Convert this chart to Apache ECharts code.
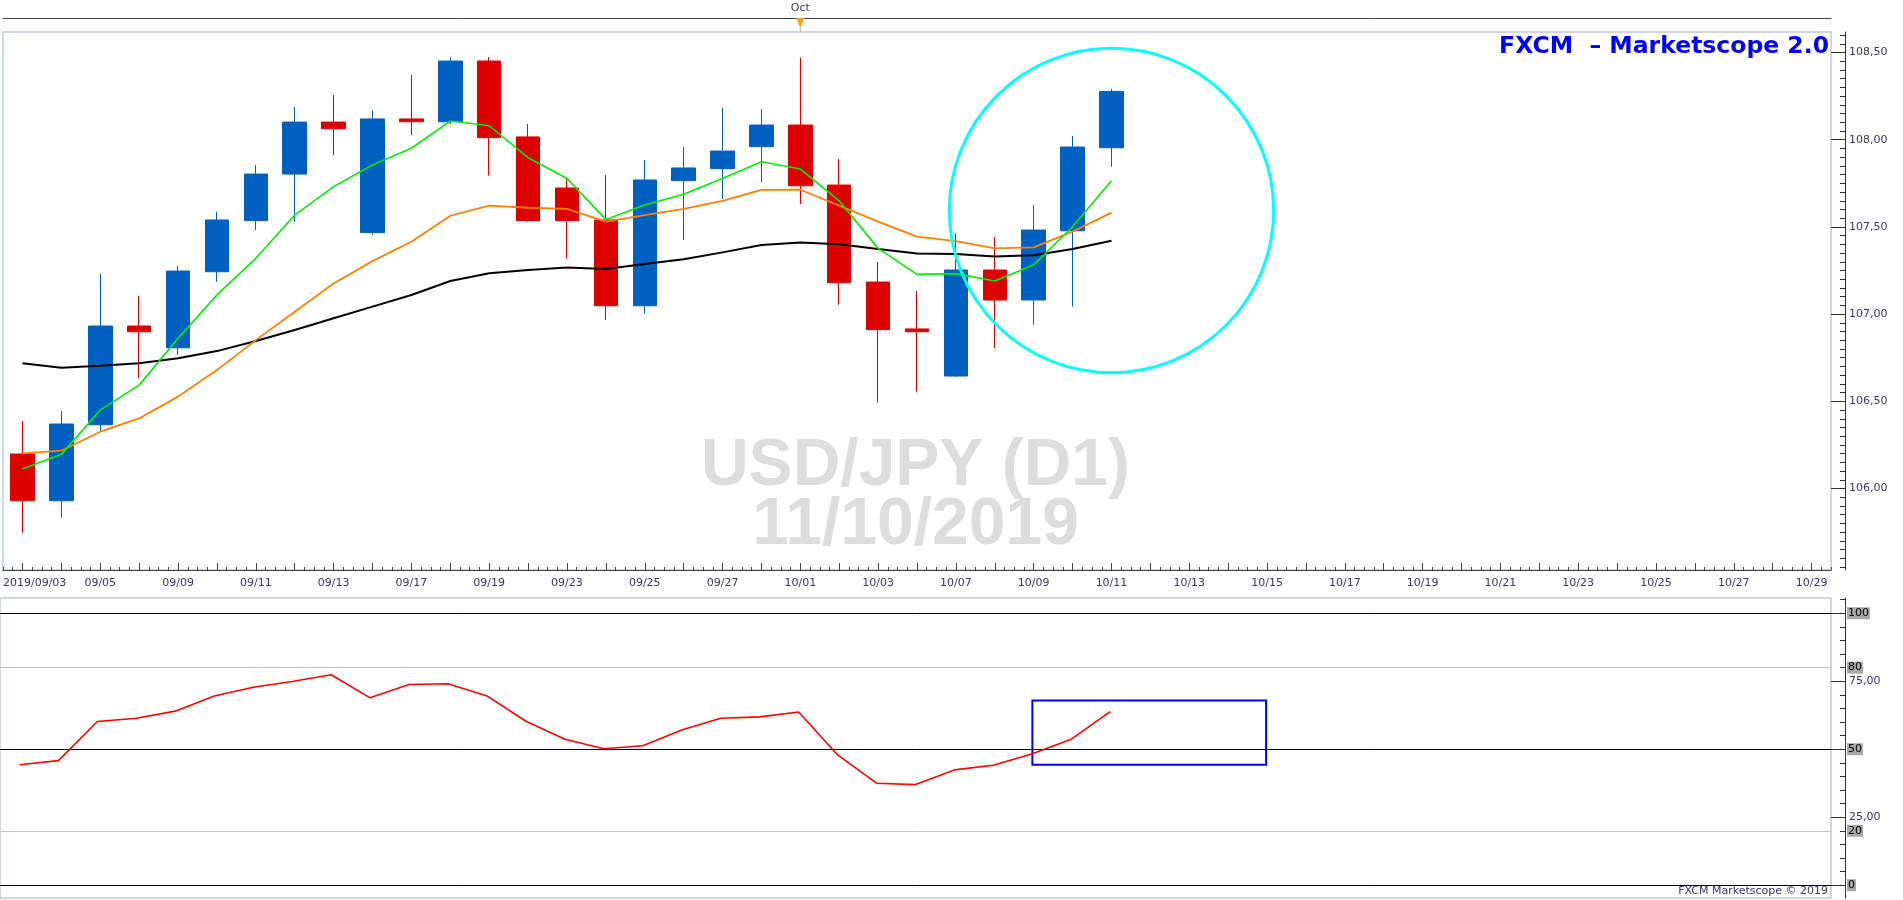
<!DOCTYPE html>
<html><head><meta charset="utf-8">
<script src="https://cdn.jsdelivr.net/npm/echarts@6/dist/echarts.min.js"></script>
<style>html,body{margin:0;padding:0;background:#fff;overflow:hidden}#c{width:1903px;height:900px}</style>
</head><body><div id="c"></div>
<script>
// ---------- data ----------
const tradingDates = ['2019/09/03','09/04','09/05','09/06','09/09','09/10','09/11','09/12','09/13','09/16',
  '09/17','09/18','09/19','09/20','09/23','09/24','09/25','09/26','09/27','09/30',
  '10/01','10/02','10/03','10/04','10/07','10/08','10/09','10/10','10/11'];
const futureDates = ['10/12','10/13','10/14','10/15','10/16','10/17','10/18','10/19','10/20','10/21',
  '10/22','10/23','10/24','10/25','10/26','10/27','10/28','10/29'];
const opens  = [106.198,105.930,106.366,106.932,106.807,107.243,107.536,107.803,108.101,107.467,
  108.119,108.103,108.451,108.016,107.723,107.540,107.048,107.765,107.834,107.960,
  108.084,107.740,107.184,106.915,106.645,107.253,107.081,107.478,107.954];
const closes = [105.930,106.370,106.932,106.899,107.247,107.540,107.803,108.101,108.063,108.119,
  108.103,108.451,108.012,107.536,107.536,107.048,107.769,107.838,107.935,108.084,
  107.736,107.180,106.911,106.899,107.253,107.081,107.482,107.958,108.277];
const lows   = [105.747,105.833,106.326,106.632,106.765,107.186,107.482,107.530,107.912,107.454,
  108.027,108.090,107.794,107.530,107.318,106.966,107.002,107.425,107.660,107.756,
  107.631,107.054,106.492,106.555,106.640,106.806,106.939,107.043,107.845];
const highs  = [106.387,106.444,107.230,107.104,107.276,107.587,107.855,108.188,108.256,108.170,
  108.371,108.474,108.474,108.090,107.778,107.798,107.884,107.958,108.182,108.176,
  108.470,107.889,107.299,107.132,107.463,107.442,107.626,108.021,108.291];
const maFast = [106.112,106.196,106.450,106.593,106.861,107.110,107.320,107.568,107.731,107.855,
  107.951,108.107,108.080,107.897,107.778,107.543,107.626,107.687,107.778,107.874,
  107.832,107.649,107.377,107.228,107.232,107.190,107.282,107.501,107.765];
const maMid  = [106.202,106.217,106.326,106.402,106.527,106.679,106.851,107.014,107.176,107.304,
  107.415,107.564,107.622,107.610,107.603,107.530,107.568,107.603,107.649,107.712,
  107.713,107.622,107.530,107.444,107.419,107.377,107.383,107.473,107.582];
const maSlow = [106.718,106.693,106.704,106.718,106.747,106.788,106.846,106.909,106.976,107.043,
  107.110,107.190,107.234,107.253,107.268,107.259,107.287,107.314,107.354,107.396,
  107.410,107.400,107.373,107.348,107.345,107.331,107.338,107.373,107.421];
const rsi    = [44.3,45.8,60.2,61.4,64.0,69.6,72.8,74.9,77.4,68.9,
  73.8,74.1,69.6,60.3,53.7,50.2,51.3,57.1,61.4,61.9,
  63.7,47.9,37.5,37.0,42.4,44.1,48.3,53.7,63.8];
const priceTicks = [106.0,106.5,107.0,107.5,108.0,108.5];
const priceRange = [105.533, 108.6175];
const rsiTicks = [0,25,50,75,100];
const rsiTickLabels = [25,75];
const rsiRange = [-4.7, 105.6];
const rsiLevels = [100,80,50,20,0];
const rsiLevelColors = ['#000','#c4c4c4','#000','#c4c4c4','#000'];
const monthMarker = {date:'10/01', label:'Oct'};
const lastPrice = 108.277;
const highlightCircle = {date:'10/11', price:107.594, radiusPrice:0.93};
const rsiBox = {from:'10/09', to:'10/15', top:67.9, bottom:44.3};
const titleText = 'FXCM  \u2013 Marketscope 2.0';
const watermark = ['USD/JPY (D1)','11/10/2019'];
const copyright = 'FXCM Marketscope \u00a9 2019';

// ---------- build ----------
const allDates = tradingDates.concat(futureDates);
const candles = opens.map((o,i)=>[o, closes[i], lows[i], highs[i]]);
const labelColor = '#35356f';
const fontFam = 'DejaVu Sans';
const fmt2 = v => v.toFixed(2).replace('.', ',');
const minorPrice = []; for (let v = 105.55; v < 108.62; v += 0.05) minorPrice.push(+v.toFixed(2));
const minorRsi = []; for (let v = 0; v <= 105; v += 5) minorRsi.push(v);

const GRID_L = 0, GRID_R = 72;
const chart = echarts.init(document.getElementById('c'), null, {renderer:'canvas'});
const option = {
  animation:false,
  backgroundColor:'#fff',
  grid:[
    {left:GRID_L, right:GRID_R, top:32, height:538, show:true, backgroundColor:'#fff', borderColor:'#cdd6e1', borderWidth:2},
    {left:GRID_L, right:GRID_R, top:598, height:300, show:true, backgroundColor:'#fff', borderColor:'#cdd6e1', borderWidth:2}
  ],
  xAxis:[
    {type:'category', gridIndex:0, data:allDates, position:'bottom', boundaryGap:true,
      axisLine:{show:true, onZero:false, lineStyle:{color:'#444', width:1}},
      axisTick:{show:true, inside:true, length:7, alignWithLabel:true, interval:0, lineStyle:{color:'#444'}},
      axisLabel:{interval:1, margin:8, color:labelColor, fontSize:11, fontFamily:fontFam,
        formatter:(v,i)=> i===0 ? '{first|'+v+'}' : v,
        rich:{first:{width:39, align:'left', color:labelColor, fontSize:11, fontFamily:fontFam}}},
      splitLine:{show:false}},
    {type:'category', gridIndex:0, data:allDates, position:'top', offset:14, boundaryGap:true,
      axisLine:{show:true, onZero:false, lineStyle:{color:'#444', width:1}},
      axisTick:{show:false},
      axisLabel:{interval:0, margin:4, color:labelColor, fontSize:11, fontFamily:fontFam,
        formatter:(v)=> v===monthMarker.date ? monthMarker.label : ''},
      splitLine:{show:false}},
    {type:'value', gridIndex:0, position:'bottom', min:-0.5, max:allDates.length-0.5, interval:0.25,
      axisLine:{show:false, onZero:false}, axisTick:{show:true, inside:true, length:3, lineStyle:{color:'#444'}},
      axisLabel:{show:false}, splitLine:{show:false}},
    {type:'category', gridIndex:1, data:allDates, boundaryGap:true, show:false, axisLine:{onZero:false}}
  ],
  yAxis:[
    {type:'value', gridIndex:0, position:'right', offset:14, min:priceRange[0], max:priceRange[1], scale:true,
      axisLine:{show:true, onZero:false, lineStyle:{color:'#333', width:1}},
      axisTick:{show:true, inside:true, length:14, customValues:priceTicks, lineStyle:{color:'#333'}},
      axisLabel:{show:true, customValues:priceTicks, formatter:fmt2, color:labelColor, fontSize:11, fontFamily:fontFam, margin:4},
      splitLine:{show:false}},
    {type:'value', gridIndex:0, position:'right', offset:14, min:priceRange[0], max:priceRange[1], scale:true,
      axisLine:{show:false, onZero:false},
      axisTick:{show:true, inside:true, length:5, customValues:minorPrice, lineStyle:{color:'#333'}},
      axisLabel:{show:false}, splitLine:{show:false}},
    {type:'value', gridIndex:1, position:'right', offset:14, min:rsiRange[0], max:rsiRange[1],
      axisLine:{show:true, onZero:false, lineStyle:{color:'#333', width:1}},
      axisTick:{show:true, inside:true, length:14, customValues:rsiTicks, lineStyle:{color:'#333'}},
      axisLabel:{show:true, customValues:rsiTickLabels, formatter:fmt2, color:labelColor, fontSize:11, fontFamily:fontFam, margin:4},
      splitLine:{show:false}},
    {type:'value', gridIndex:1, position:'right', offset:14, min:rsiRange[0], max:rsiRange[1],
      axisLine:{show:false, onZero:false},
      axisTick:{show:true, inside:true, length:5, customValues:minorRsi, lineStyle:{color:'#333'}},
      axisLabel:{show:false}, splitLine:{show:false}}
  ],
  series:[
    {type:'candlestick', xAxisIndex:0, yAxisIndex:0, data:candles, barWidth:24, z:3,
      itemStyle:{color:'#0060c0', color0:'#dc0000', borderColor:'#0060c0', borderColor0:'#dc0000', borderWidth:1},
      markLine:{silent:true, symbol:'none', animation:false,
        data:[{yAxis:lastPrice}],
        lineStyle:{opacity:0},
        label:{show:true, position:'end', distance:16, formatter:()=>lastPrice.toFixed(3).replace('.',','),
          backgroundColor:'#66ccff', color:'#000', fontSize:11, fontFamily:fontFam, padding:[3,1,2,1]}}
    },
    {type:'line', xAxisIndex:0, yAxisIndex:0, data:maSlow, symbol:'none', lineStyle:{color:'#000', width:2}, z:4},
    {type:'line', xAxisIndex:0, yAxisIndex:0, data:maMid, symbol:'none', lineStyle:{color:'#ff8000', width:1.8}, z:5},
    {type:'line', xAxisIndex:0, yAxisIndex:0, data:maFast, symbol:'none', lineStyle:{color:'#00ee00', width:1.6}, z:6},
    {type:'line', xAxisIndex:3, yAxisIndex:2, data:rsi, symbol:'none', lineStyle:{color:'#ff0000', width:1.6}, z:6,
      markLine:{silent:true, symbol:'none', animation:false,
        data: rsiLevels.map((v,i)=>({yAxis:v, lineStyle:{color:rsiLevelColors[i], width:1, type:'solid'}})),
        label:{show:true, position:'end', distance:16, formatter:p=>String(p.value),
          backgroundColor:'#a9a9a9', color:'#000', fontSize:11, fontFamily:fontFam, padding:[1,1,0,1]}},
      markArea:{silent:true, animation:false,
        itemStyle:{color:'rgba(0,0,0,0)', borderColor:'#0000ff', borderWidth:2},
        data:[[{coord:[rsiBox.from, rsiBox.top]},{coord:[rsiBox.to, rsiBox.bottom]}]]}
    }
  ]
};
chart.setOption(option);

const finder = {xAxisIndex:0, yAxisIndex:0};
const c0 = chart.convertToPixel(finder, [highlightCircle.date, highlightCircle.price]);
const c1 = chart.convertToPixel(finder, [highlightCircle.date, highlightCircle.price + highlightCircle.radiusPrice]);
const r = c0[1] - c1[1];
const m = chart.convertToPixel(finder, [monthMarker.date, priceRange[1]]);
const gridW = 1903 - GRID_L - GRID_R;
const gx = GRID_L + gridW/2;

chart.setOption({graphic:{elements:[
  {type:'text', id:'wm1', x:gx, y:467, z:1, silent:true,
    style:{text:watermark[0], fill:'#dddddd', font:'bold 66px "Liberation Sans", Arial, sans-serif', textAlign:'center', textVerticalAlign:'middle'}},
  {type:'text', id:'wm2', x:gx, y:526, z:1, silent:true,
    style:{text:watermark[1], fill:'#dddddd', font:'bold 66px "Liberation Sans", Arial, sans-serif', textAlign:'center', textVerticalAlign:'middle'}},
  {type:'text', id:'title', x:1829, y:47, z:50, silent:true,
    style:{text:titleText, fill:'#0000ff', font:'bold 23.5px "DejaVu Sans", sans-serif', textAlign:'right', textVerticalAlign:'middle'}},
  {type:'text', id:'copy', x:1828, y:891, z:50, silent:true,
    style:{text:copyright, fill:labelColor, font:'11px "DejaVu Sans", sans-serif', textAlign:'right', textVerticalAlign:'middle'}},
  {type:'circle', id:'circ', z:60, silent:true, shape:{cx:c0[0], cy:c0[1], r:r},
    style:{fill:'none', stroke:'#00ffff', lineWidth:3}},
  {type:'polygon', id:'tri', z:60, silent:true, shape:{points:[[m[0]-4,18],[m[0]+4,18],[m[0],28]]},
    style:{fill:'#ff9e1a'}},
  {type:'line', id:'triline', z:60, silent:true, shape:{x1:m[0], y1:28, x2:m[0], y2:32},
    style:{stroke:'#b0b0b0', lineWidth:1}}
]}});
</script>
</body></html>
